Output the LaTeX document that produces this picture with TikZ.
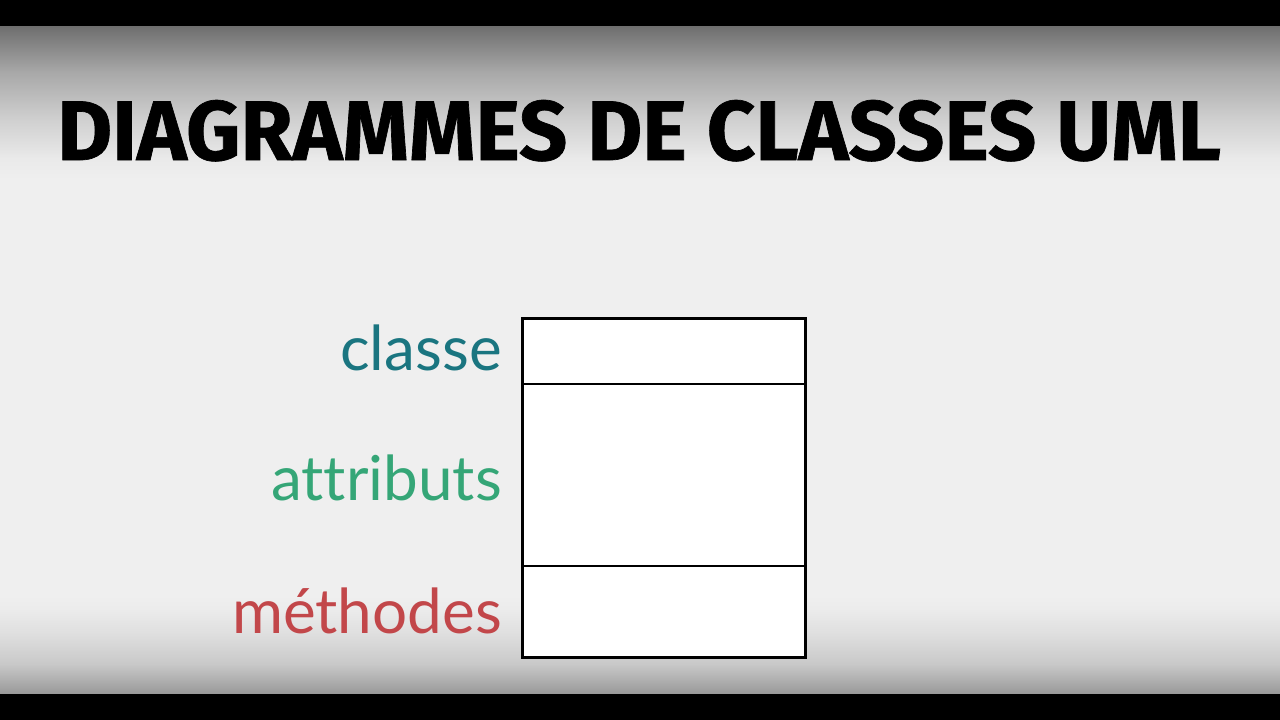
\documentclass[tikz,border=0pt]{standalone}
\usepackage{fontspec}
\newfontfamily\titlefont[BoldFeatures={FakeBold=0.8}]{Fira Sans}
\newfontfamily\labelfont[Ligatures={NoCommon,NoRequired}]{Lato}
\definecolor{bgmid}{HTML}{EFEFEF}
\definecolor{bgtop}{HTML}{6E6E6E}
\definecolor{bgbot}{HTML}{9A9A9A}
\definecolor{cclasse}{HTML}{1A7580}
\definecolor{cattr}{HTML}{35A677}
\definecolor{cmeth}{HTML}{C2474A}
\pgfdeclareverticalshading{topgrad}{100bp}{color(0bp)=(bgmid); color(25bp)=(bgmid); color(32bp)=(bgmid!96!bgtop); color(45bp)=(bgmid!75!bgtop); color(60bp)=(bgmid!45!bgtop); color(75bp)=(bgtop); color(100bp)=(bgtop)}
\pgfdeclareverticalshading{botgrad}{100bp}{color(0bp)=(bgbot); color(25bp)=(bgbot); color(40bp)=(bgmid!55!bgbot); color(55bp)=(bgmid!80!bgbot); color(68bp)=(bgmid!96!bgbot); color(75bp)=(bgmid); color(100bp)=(bgmid)}
\begin{document}
\begin{tikzpicture}[x=1pt,y=-1pt,
  lbl/.style={anchor=base east,inner sep=0pt,font=\labelfont\fontsize{62}{62}\selectfont},
  boxline/.style={line width=3pt,draw=black},
  divline/.style={line width=2pt,draw=black}]
\useasboundingbox (0,0) rectangle (1280,720);
% background
\fill[black] (0,0) rectangle (1280,720);
\fill[bgmid] (0,26) rectangle (1280,693);
\shade[shading=topgrad] (0,26) rectangle (1280,180);
\shade[shading=botgrad] (0,596) rectangle (1280,693);
% title
\node[anchor=base west,inner sep=0pt] (title) at (57,160)
  {\resizebox{1163pt}{60pt}{\titlefont\bfseries DIAGRAMMES DE CLASSES UML}};
% class box
\node[boxline,fill=white,minimum width=283pt,minimum height=339pt,inner sep=0pt,outer sep=0pt,anchor=north west] (cbox) at (522.5,318.5) {};
\coordinate (d1l) at (cbox.west |- 0,384);
\coordinate (d1r) at (cbox.east |- 0,384);
\coordinate (d2l) at (cbox.west |- 0,566);
\coordinate (d2r) at (cbox.east |- 0,566);
\draw[divline] (d1l) -- (d1r);
\draw[divline] (d2l) -- (d2r);
% labels
\node[lbl,text=cclasse] (lclasse) at (502,370) {classe};
\node[lbl,text=cattr] (lattr) at (502,500) {attributs};
\node[lbl,text=cmeth] (lmeth) at (502,633) {méthodes};
\end{tikzpicture}
\end{document}
